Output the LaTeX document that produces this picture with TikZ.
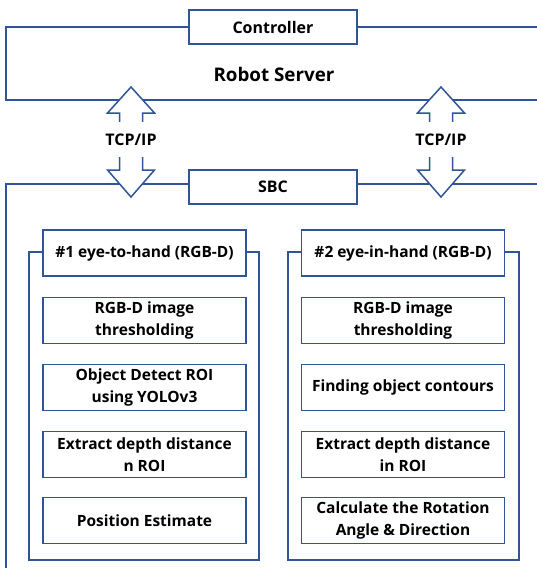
\documentclass[tikz,border=0pt]{standalone}
\usepackage{fontspec}
\setmainfont{Open Sans}
\usetikzlibrary{calc}
\definecolor{lnblue}{HTML}{2F5597}
\begin{document}
\begin{tikzpicture}[x=1pt,y=-1pt,
  every node/.style={font=\bfseries},
  line/.style={draw=lnblue,line width=1.5pt},
  box/.style={line,fill=white,rectangle,inner sep=1pt,align=center,font=\bfseries\fontsize{15.5}{21.5}\selectfont},
  toptitle/.style={box,minimum width=168pt,minimum height=34pt,font=\bfseries\fontsize{16}{20}\selectfont},
  stepbox/.style={box,minimum width=203pt,minimum height=46pt},
  arrowshape/.style={line,fill=white,line join=miter}]
\useasboundingbox (0,0) rectangle (537,568);
\clip (0,0) rectangle (537,568);
% containers
\draw[line] (560,27) -- (6,27) -- (6,100) -- (560,100);
\draw[line] (560,184) -- (6,184) -- (6,600);
\node[font=\bfseries\fontsize{18.8}{24}\selectfont] (rs) at (274,74) {Robot Server};
\node[toptitle] (ctrl) at (273,27) {Controller};
\node[toptitle] (sbc) at (273,187) {SBC};
% double arrows
\coordinate (a1) at (131,87);
\coordinate (a2) at (441,87);
\foreach \a in {a1,a2}{
  \draw[arrowshape] (\a) -- ++(23.5,26) -- ++(-12,0) -- ++(0,57) -- ++(12,0) -- ++(-23.5,27)
    -- ++(-23.5,-27) -- ++(12,0) -- ++(0,-57) -- ++(-12,0) -- cycle;
}
\node[fill=white,inner sep=1pt,minimum height=35pt,font=\bfseries\fontsize{16}{18}\selectfont] (t1) at (131,139.5) {TCP/IP};
\node[fill=white,inner sep=1pt,minimum height=35pt,font=\bfseries\fontsize{16}{18}\selectfont] (t2) at (441,139.5) {TCP/IP};
% group frames
\draw[line] (29,252) rectangle (259,560);
\draw[line] (288,252) rectangle (519,560);
\node[stepbox] (h1) at (144.5,253) {\#1 eye-to-hand (RGB-D)};
\node[stepbox] (h2) at (403,253) {\#2 eye-in-hand (RGB-D)};
% left steps
\node[stepbox] (l1) at (144.5,320.5) {RGB-D image\\thresholding};
\node[stepbox] (l2) at (144.5,387.5) {Object Detect ROI\\using YOLOv3};
\node[stepbox] (l3) at (144.5,454.5) {Extract depth distance\\n ROI};
\node[stepbox] (l4) at (144.5,520.5) {Position Estimate};
% right steps
\node[stepbox] (r1) at (403,320.5) {RGB-D image\\thresholding};
\node[stepbox] (r2) at (403,387.5) {Finding object contours};
\node[stepbox] (r3) at (403,454.5) {Extract depth distance\\in ROI};
\node[stepbox] (r4) at (403,520.5) {Calculate the Rotation\\Angle \& Direction};
\end{tikzpicture}
\end{document}
